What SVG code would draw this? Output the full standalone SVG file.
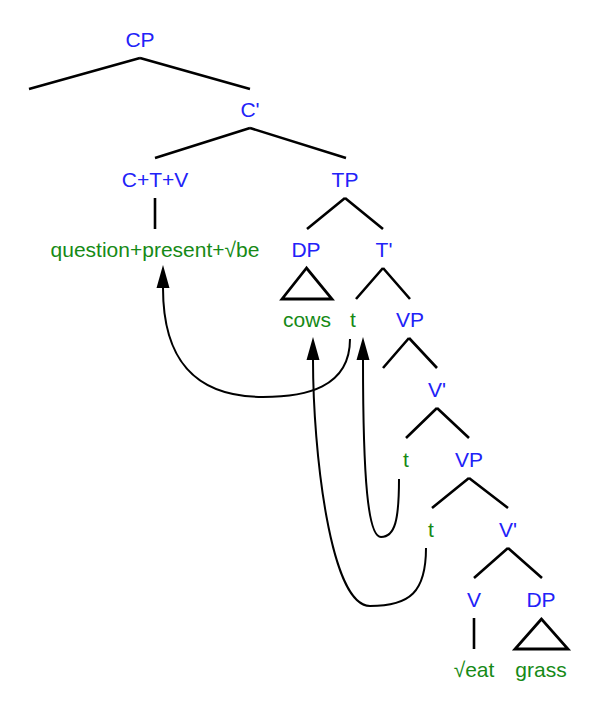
<svg xmlns="http://www.w3.org/2000/svg" width="597" height="706" viewBox="0 0 597 706">
<style>
text{font-family:"Liberation Sans",Arial,sans-serif;font-size:21px;text-anchor:middle}
.c{fill:#2222f8}
.w{fill:#168a16}
.e{stroke:#000;stroke-width:2.6;fill:none;stroke-linecap:butt}
.tri{stroke:#000;stroke-width:2.8;fill:none;stroke-linejoin:miter}
.m{stroke:#000;stroke-width:2;fill:none}
</style>
<defs>
<marker id="ah" markerUnits="userSpaceOnUse" markerWidth="24" markerHeight="14" refX="0" refY="6.5" orient="auto" viewBox="0 0 24 13">
<path d="M0,0 L23,6.5 L0,13 z" fill="#000"/>
</marker>
</defs>
<rect width="597" height="706" fill="#fff"/>
<g id="CP"><text class="c" x="140" y="47">CP</text><path class="e" d="M140,58 L29,89 M140,58 L250,89"/></g>
<g id="Cbar"><text class="c" x="250" y="117">C'</text><path class="e" d="M250,128 L155,158 M250,128 L346,158"/></g>
<g id="CTV"><text class="c" x="155" y="187">C+T+V</text><path class="e" d="M155,198 L155,229"/></g>
<g id="qpb"><text class="w" x="155" y="257">question+present+√be</text></g>
<g id="TP"><text class="c" x="345" y="187">TP</text><path class="e" d="M345,198 L307,229 M345,198 L383,229"/></g>
<g id="DP1"><text class="c" x="306" y="257">DP</text><path class="tri" d="M306.5,268 L282,299 L332,299 z"/></g>
<g id="cows"><text class="w" x="307" y="327">cows</text></g>
<g id="Tbar"><text class="c" x="384" y="257">T'</text><path class="e" d="M383,268 L356,299 M383,268 L410,299"/></g>
<g id="t1"><text class="w" x="353" y="327">t</text></g>
<g id="VP1"><text class="c" x="410" y="327">VP</text><path class="e" d="M409,338 L383,368 M409,338 L437,368"/></g>
<g id="Vbar1"><text class="c" x="437" y="397">V'</text><path class="e" d="M437,408 L406,438 M437,408 L469,438"/></g>
<g id="t2"><text class="w" x="406" y="467">t</text></g>
<g id="VP2"><text class="c" x="469" y="467">VP</text><path class="e" d="M469,478 L432,508 M469,478 L508,508"/></g>
<g id="t3"><text class="w" x="431" y="537">t</text></g>
<g id="Vbar2"><text class="c" x="508" y="537">V'</text><path class="e" d="M508,548 L474,578 M508,548 L542,578"/></g>
<g id="V"><text class="c" x="474" y="607">V</text><path class="e" d="M474,618 L474,649"/></g>
<g id="DP2"><text class="c" x="541" y="607">DP</text><path class="tri" d="M541.5,619 L515,649 L568,649 z"/></g>
<g id="eat"><text class="w" x="474" y="677">√eat</text></g>
<g id="grass"><text class="w" x="541" y="677">grass</text></g>
<g id="connectors">
<path class="m" d="M350,339 C350,388 305,397 263,397 C195,397 163,360 163,288" marker-end="url(#ah)"/>
<path class="m" d="M399,479 C399,520 395,537 381,537 C368,537 363,480 363,360" marker-end="url(#ah)"/>
<path class="m" d="M426,548 C426,592 410,606 370,606 C330,606 313,450 313,360" marker-end="url(#ah)"/>
</g>
</svg>
